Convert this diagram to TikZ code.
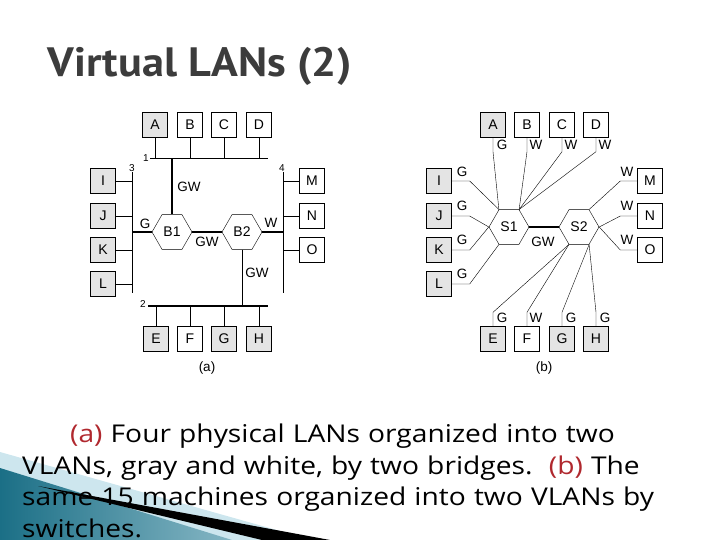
\documentclass[tikz,border=0pt]{standalone}
\usepackage{fontspec}
\setmainfont{Open Sans}[FakeStretch=1.15]
\newfontfamily\titlefont{PT Sans}[FakeStretch=1.08]
\newfontfamily\diagfont{Liberation Sans}
\usetikzlibrary{shapes.geometric}
\definecolor{boxgray}{HTML}{E4E4E4}
\definecolor{capred}{HTML}{B0282E}
\definecolor{titlegray}{HTML}{3C3C3C}
\definecolor{tealdark}{HTML}{1B6F86}
\definecolor{teallight}{HTML}{CDE6EE}
\begin{document}
\begin{tikzpicture}[x=1pt,y=-1pt]
\tikzset{ >=latex,
  host/.style={draw, minimum size=25pt, inner sep=0pt, font=\diagfont\fontsize{14}{14}\selectfont},
  ghost/.style={host, fill=boxgray},
  whost/.style={host, fill=white},
  hexa/.style={draw, fill=white, regular polygon, regular polygon sides=6, minimum size=40pt, inner sep=0pt, font=\diagfont\fontsize{14}{14}\selectfont},
  tag/.style={font=\diagfont\fontsize{13.5}{13.5}\selectfont, inner sep=0pt},
  num/.style={font=\diagfont\fontsize{10}{10}\selectfont, inner sep=0pt},
  bus/.style={line width=1.6pt},
}
\useasboundingbox (0,0) rectangle (720,540);

% decoration bottom left
\fill[teallight] (0,452) -- (312,540) -- (0,540) -- cycle;
\shade[left color=tealdark, right color=teallight!60!tealdark] (0,468) -- (232,540) -- (0,540) -- cycle;
\fill[black] (38,486) -- (330,540) -- (262,540) -- cycle;

% title
\node[anchor=west, text=titlegray, font=\titlefont\fontsize{41}{41}\selectfont\bfseries] (title) at (44,66) {Virtual LANs (2)};

%% (a) bridges
\node[ghost] (aA) at (155,125) {A};
\node[whost] (aB) at (190,125) {B};
\node[whost] (aC) at (224,125) {C};
\node[whost] (aD) at (259,125) {D};
\node[ghost] (aI) at (103,181) {I};
\node[ghost] (aJ) at (103,216) {J};
\node[ghost] (aK) at (103,250) {K};
\node[ghost] (aL) at (103,284) {L};
\node[whost] (aM) at (312,181) {M};
\node[whost] (aN) at (312,216) {N};
\node[whost] (aO) at (312,250) {O};
\node[ghost] (aE) at (156,339) {E};
\node[whost] (aF) at (190,339) {F};
\node[ghost] (aG) at (224,339) {G};
\node[ghost] (aH) at (259,339) {H};

\node[hexa] (B1) at (172,232) {B1};
\node[hexa] (B2) at (242,232) {B2};

\coordinate (l1w) at (150,158); \coordinate (l1e) at (268,158);
\coordinate (l2w) at (148,306); \coordinate (l2e) at (268,306);
\coordinate (l3n) at (132,172); \coordinate (l3s) at (132,293);
\coordinate (l4n) at (283,172); \coordinate (l4s) at (283,293);
\draw (l1w) -- (l1e);
\draw[bus] (l2w) -- (l2e);
\draw (l3n) -- (l3s);
\draw (l4n) -- (l4s);
\foreach \h in {aA,aB,aC,aD} \draw (\h.south) -- (\h.south |- l1w);
\foreach \h in {aE,aF,aG,aH} \draw (\h.north) -- (\h.north |- l2w);
\foreach \h in {aI,aJ,aK,aL} \draw (\h.east) -- (\h.east -| l3n);
\foreach \h in {aM,aN,aO} \draw (\h.west) -- (\h.west -| l4n);
\draw[bus] (B1.north) -- (B1.north |- l1w);
\draw[bus] (B1.west) -- (B1.west -| l3n);
\draw[bus] (B1.east) -- (B2.west);
\draw[bus] (B2.east) -- (B2.east -| l4n);
\draw (B2.south) -- (B2.south |- l2w);

\node[num] at (146,158) {1};
\node[num] at (143,304) {2};
\node[num] at (132,168) {3};
\node[num] at (282,168) {4};
\node[tag] at (189,187) {GW};
\node[tag] at (145,224) {G};
\node[tag] at (207,242) {GW};
\node[tag] at (271,223) {W};
\node[tag] at (257,273) {GW};
\node[tag] at (207,368) {(a)};

%% (b) switches
\node[ghost] (bA) at (493,125) {A};
\node[whost] (bB) at (527,125) {B};
\node[whost] (bC) at (562,125) {C};
\node[whost] (bD) at (596,125) {D};
\node[ghost] (bI) at (439,181) {I};
\node[ghost] (bJ) at (439,216) {J};
\node[ghost] (bK) at (439,250) {K};
\node[ghost] (bL) at (439,284) {L};
\node[whost] (bM) at (650,181) {M};
\node[whost] (bN) at (650,216) {N};
\node[whost] (bO) at (650,250) {O};
\node[ghost] (bE) at (493,339) {E};
\node[whost] (bF) at (527,339) {F};
\node[ghost] (bG) at (562,339) {G};
\node[ghost] (bH) at (596,339) {H};

\node[hexa] (S1) at (509,227) {S1};
\node[hexa] (S2) at (579,227) {S2};
\draw[bus] (S1.east) -- (S2.west);

\draw (bA.south) -- ++(0,14) -- (S1.corner 2);
\draw (bB.south) -- ++(0,14) -- (S1.corner 1);
\draw (bC.south) -- ++(0,14) -- (S1.corner 1);
\draw (bD.south) -- ++(0,14) -- (S1.corner 1);
\draw (bI.east) -- ++(18,0) -- (S1.corner 2);
\draw (bJ.east) -- ++(18,0) -- (S1.corner 3);
\draw (bK.east) -- ++(18,0) -- (S1.corner 3);
\draw (bL.east) -- ++(18,0) -- (S1.corner 4);
\draw (bM.west) -- ++(-17,0) -- (S2.corner 1);
\draw (bN.west) -- ++(-17,0) -- (S2.corner 6);
\draw (bO.west) -- ++(-17,0) -- (S2.corner 6);
\draw (bE.north) -- ++(0,-14) -- (S2.corner 4);
\draw (bF.north) -- ++(0,-14) -- (S2.corner 4);
\draw (bG.north) -- ++(0,-14) -- (S2.corner 5);
\draw (bH.north) -- ++(0,-14) -- (S2.corner 5);

\foreach \x/\t in {502/G,536/W,571/W,605/W} \node[tag] at (\x,145) {\t};
\foreach \x/\t in {502/G,536/W,571/G,605/G} \node[tag] at (\x,318) {\t};
\foreach \y in {172,206,240,274} \node[tag] at (462,\y) {G};
\foreach \y in {172,206,240} \node[tag] at (627,\y) {W};
\node[tag] at (543,242) {GW};
\node[tag] at (544,368) {(b)};

% caption
\node[anchor=north west, align=left, inner sep=0pt, text width=698pt,
  font=\fontsize{24.5}{31.5}\selectfont] (cap) at (22,424)
  {\hspace*{48pt}\textcolor{capred}{(a)} Four physical LANs organized into two\\
   VLANs, gray and white, by two bridges.\ \ \textcolor{capred}{(b)} The\\
   same 15 machines organized into two VLANs by\\
   switches.};
\end{tikzpicture}
\end{document}
